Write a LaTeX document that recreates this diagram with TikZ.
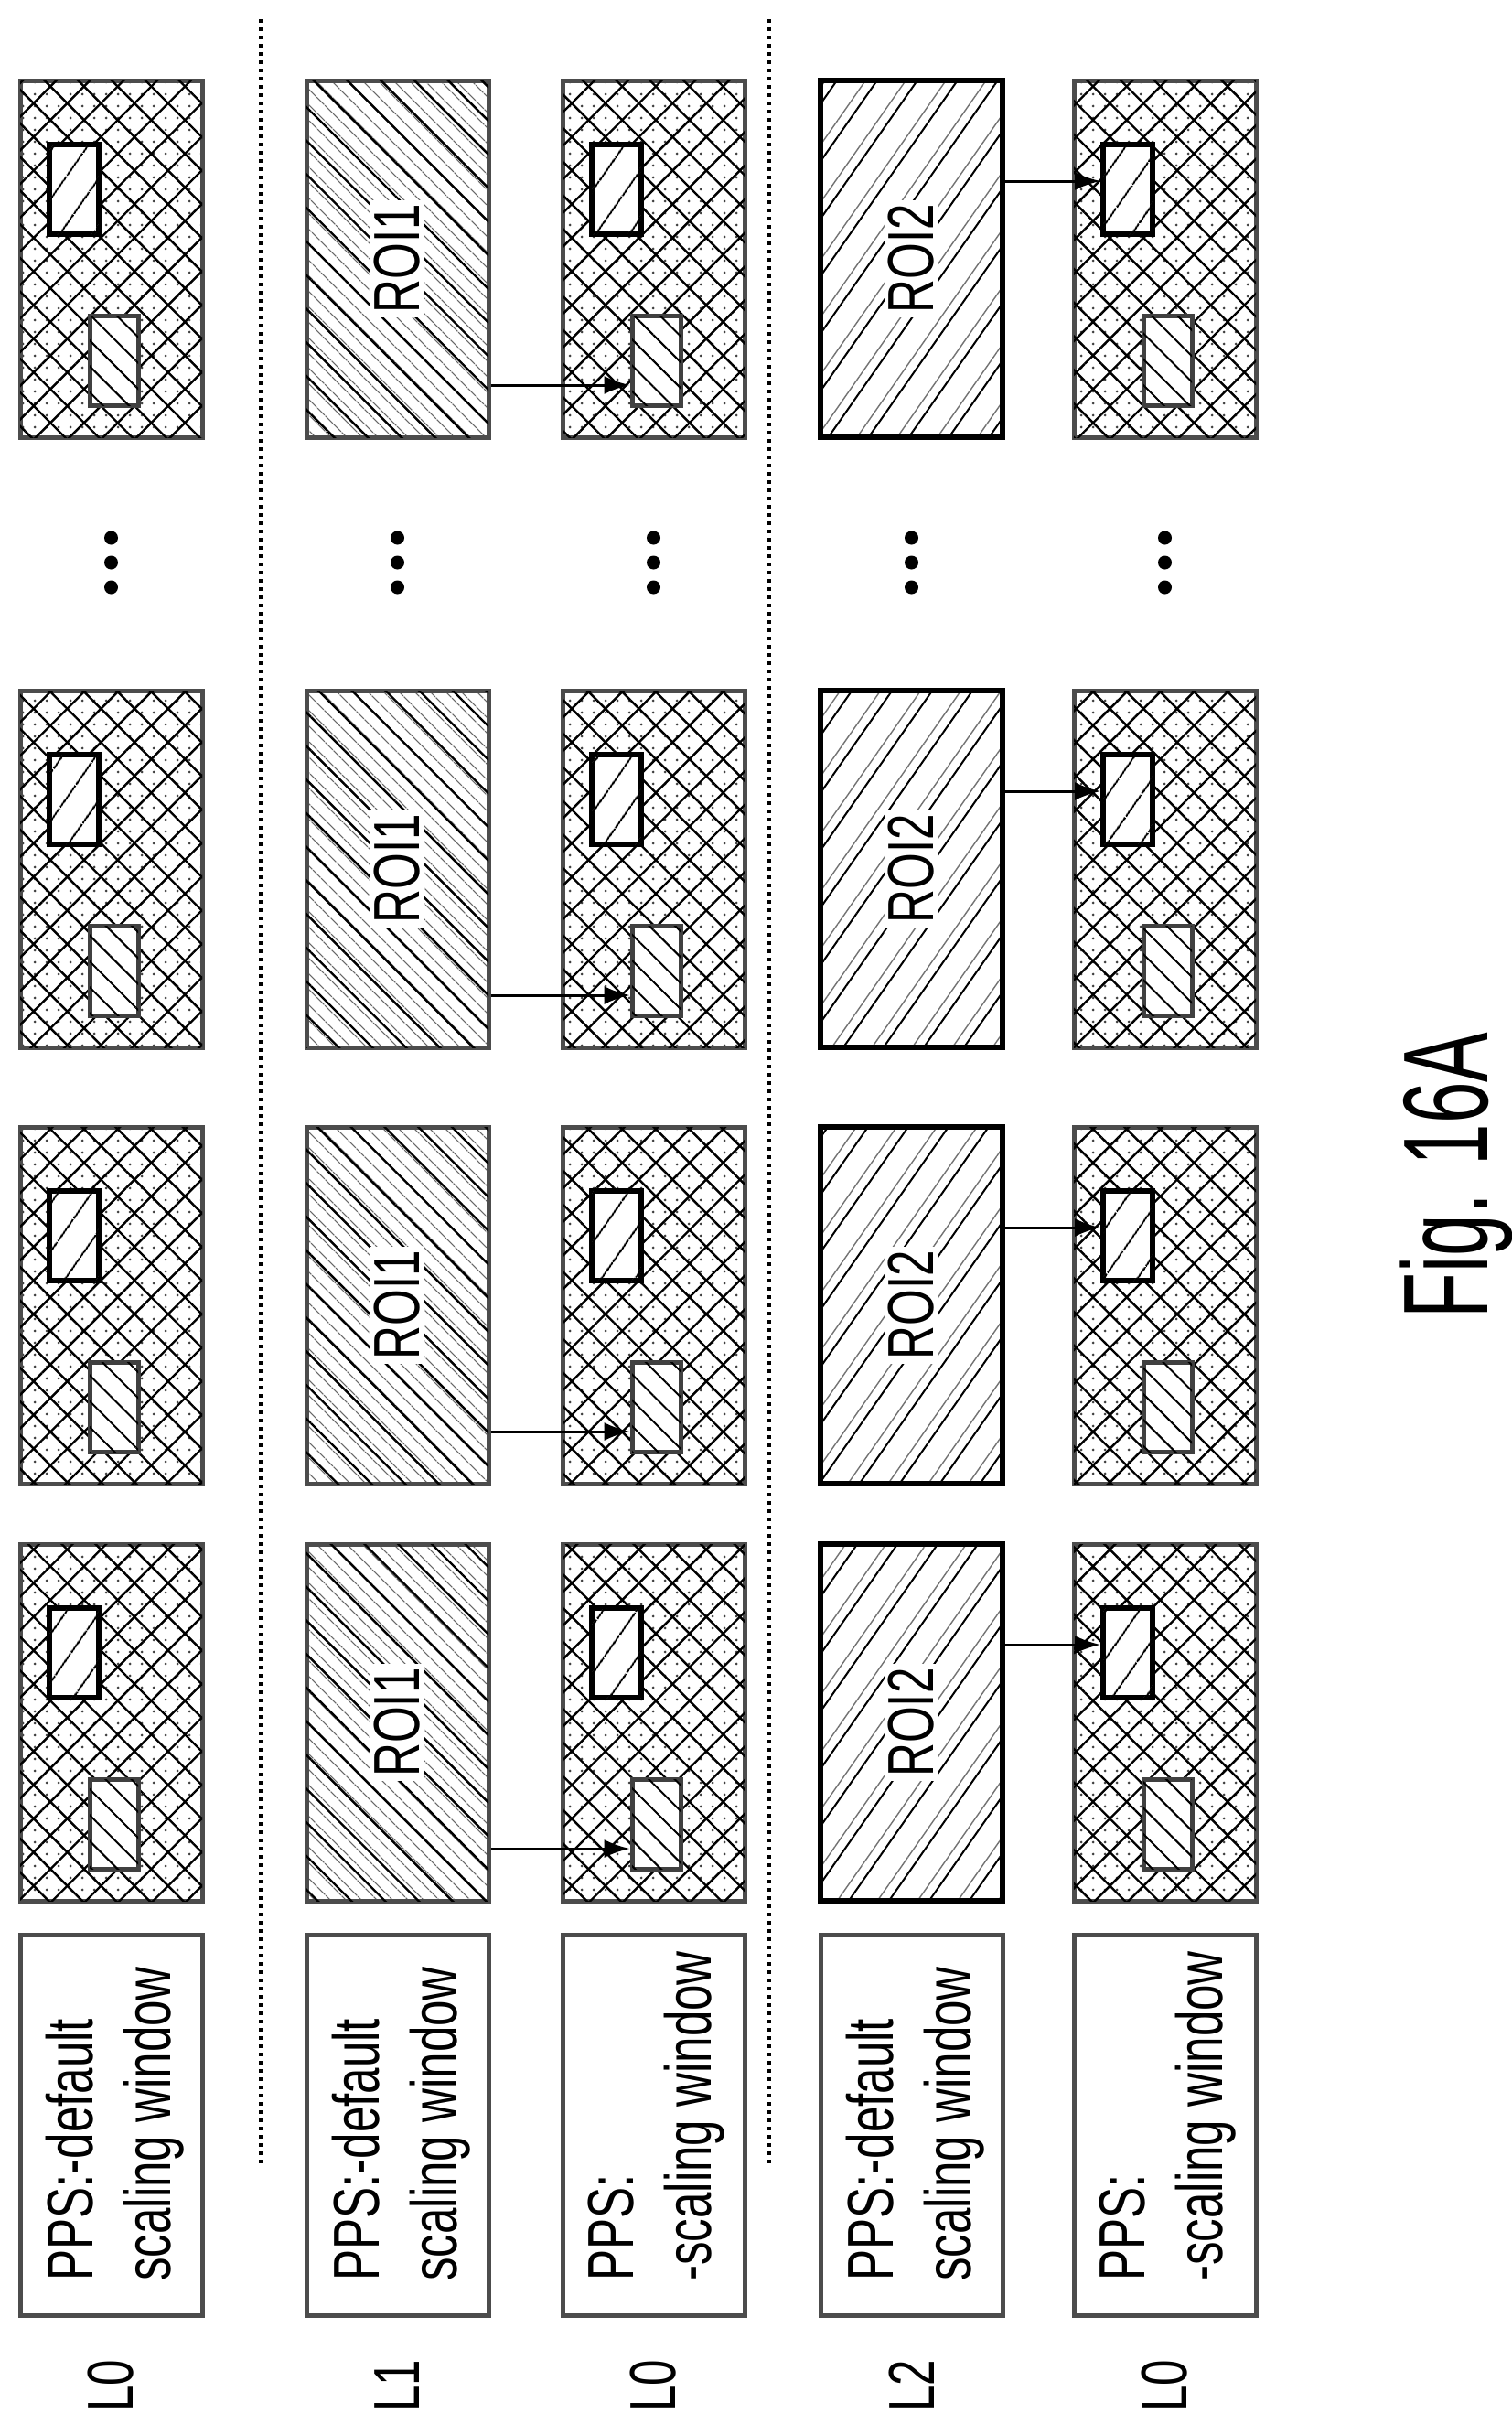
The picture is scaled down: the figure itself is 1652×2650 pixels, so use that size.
\documentclass[tikz,border=0pt]{standalone}
\usepackage{fontspec}
\newfontfamily\nar{Liberation Sans}[FakeStretch=0.72]
\newfontfamily\figf{Liberation Sans}[FakeStretch=0.62]
\usetikzlibrary{patterns.meta,arrows.meta}
\begin{document}
\begin{tikzpicture}[x=1pt,y=-1pt,
 cbox/.style={draw=black!70,line width=5pt,minimum width=199pt,minimum height=390pt,inner sep=0pt,
   preaction={pattern={Dots[distance=13pt,radius=1.6pt]},pattern color=black!75},
   postaction={pattern={Lines[angle=45,distance=26pt,line width=2.4pt]}},
   postaction={pattern={Lines[angle=-45,distance=26pt,line width=2.4pt]}}},
 roione/.style={draw=black!70,line width=5pt,minimum width=199pt,minimum height=390pt,inner sep=0pt,
   preaction={pattern={Lines[angle=-45,distance=13pt,line width=1.4pt]},pattern color=black!60},
   postaction={pattern={Lines[angle=-45,distance=26pt,line width=2.4pt]}}},
 roitwo/.style={draw=black,line width=6pt,minimum width=199pt,minimum height=390pt,inner sep=0pt,
   preaction={pattern={Lines[angle=55,distance=36pt,line width=1.4pt,yshift=18pt]},pattern color=black!55},
   postaction={pattern={Lines[angle=55,distance=36pt,line width=2pt]}}},
 thk/.style={draw=black,line width=6pt,fill=white,minimum width=54pt,minimum height=98pt,inner sep=0pt,
   postaction={pattern={Lines[angle=55,distance=30pt,line width=2pt]}}},
 dsh/.style={draw=black!75,line width=5pt,fill=white,minimum width=53pt,minimum height=98pt,inner sep=0pt,
   postaction={pattern={Lines[angle=-45,distance=20pt,line width=2pt]}}},
 pps/.style={draw=black!70,line width=5pt,minimum width=199pt,minimum height=416pt,inner sep=0pt},
 txt/.style={font=\nar\fontsize{71pt}{85pt}\selectfont,inner sep=0pt,rotate=90},
 roit/.style={txt,fill=white,inner sep=4pt},
 arr/.style={line width=3pt,-{Latex[length=28pt,width=20pt]}},
 sep/.style={line width=4pt,dash pattern=on 4pt off 5pt},
 dot/.style={circle,fill=black,inner sep=0pt,minimum size=15pt}]
\useasboundingbox (0,0) rectangle (1652,2650);
\fill[white] (0,0) rectangle (1652,2650);
\newcommand\frm[3]{%
 \node[cbox] (#1) at (#2+99.5,#3+195) {};
 \node[thk] (#1a) at (#2+59,#3+119) {};
 \node[dsh] (#1b) at (#2+102.5,#3+306) {};}
\foreach \t [count=\i] in {1688,1232,755,88}{
 \frm{r1c\i}{22}{\t}
 \node[roione] (r2c\i) at (434.5,\t+195) {};
 \node[roit] at (r2c\i) {ROI1};
 \frm{r3c\i}{615}{\t}
 \node[roitwo] (r4c\i) at (996.5,\t+195) {};
 \node[roit] at (r4c\i) {ROI2};
 \frm{r5c\i}{1174}{\t}
 \draw[arr] (r2c\i.east |- 0,\t+333) -- (r3c\i b.west |- 0,\t+333);
 \draw[arr] (r4c\i.east |- 0,\t+110) -- (r5c\i a.west |- 0,\t+110);
}
\foreach \x [count=\j] in {121.5,434.5,714.5,996.5,1273.5}{
 \node[dot] (da\j) at (\x,588) {};
 \node[dot] (db\j) at (\x,615) {};
 \node[dot] (dc\j) at (\x,642) {};
}
\node[pps] (p1) at (121.5,2323) {};
\node[pps] (p2) at (434.5,2323) {};
\node[pps] (p3) at (714.5,2323) {};
\node[pps] (p4) at (996.5,2323) {};
\node[pps] (p5) at (1273.5,2323) {};
\node[txt,anchor=north west,align=left] at (50,2494) {PPS:-default\\scaling window};
\node[txt,anchor=north west,align=left] at (363,2494) {PPS:-default\\scaling window};
\node[txt,anchor=north west,align=left] at (643,2494) {PPS:\\-scaling window};
\node[txt,anchor=north west,align=left] at (925,2494) {PPS:-default\\scaling window};
\node[txt,anchor=north west,align=left] at (1202,2494) {PPS:\\-scaling window};
\node[txt] (l1) at (121.5,2608) {L0};
\node[txt] (l2) at (434.5,2608) {L1};
\node[txt] (l3) at (714.5,2608) {L0};
\node[txt] (l4) at (996.5,2608) {L2};
\node[txt] (l5) at (1273.5,2608) {L0};
\coordinate (s1a) at (285,21); \coordinate (s1b) at (285,2365);
\coordinate (s2a) at (841,21); \coordinate (s2b) at (841,2365);
\draw[sep] (s1a) -- (s1b);
\draw[sep] (s2a) -- (s2b);
\node[rotate=90,inner sep=0pt,font=\figf\fontsize{132pt}{132pt}\selectfont] (fig) at (1592,1285) {Fig. 16A};
\end{tikzpicture}
\end{document}
